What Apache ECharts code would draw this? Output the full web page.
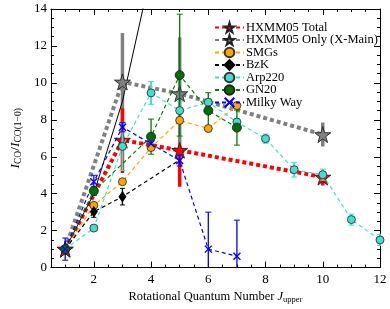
<!DOCTYPE html>
<html><head><meta charset="utf-8">
<script src="https://cdn.jsdelivr.net/npm/echarts@6/dist/echarts.min.js"></script>
<style>html,body{margin:0;padding:0;background:#fff}#c{width:390px;height:309px}</style>
</head><body><div id="c"></div>
<script>
// ---- data ----
var xMajorTicks = [2, 4, 6, 8, 10, 12];
var xMinorTicks = [1, 1.5, 2.5, 3, 3.5, 4.5, 5, 5.5, 6.5, 7, 7.5, 8.5, 9, 9.5, 10.5, 11, 11.5];

var thermJ = [1, 2, 3, 4];
var thermV = [1, 4, 9, 16];

var hxTotJ = [1, 3, 5, 10];
var hxTotV = [1.0, 6.9, 6.35, 4.9];
var hxTotLo = [0, 1.78, 1.97, 0.45];
var hxTotHi = [0, 1.73, 0.2, 0.3];

var hxOnlyJ = [1, 3, 5, 10];
var hxOnlyV = [1.0, 10.05, 9.42, 7.2];
var hxOnlyLo = [0, 2.65, 3.05, 0.65];
var hxOnlyHi = [0, 2.65, 3.05, 0.65];

var smgJ = [1, 2, 3, 4, 5, 6, 7];
var smgV = [1.0, 3.37, 4.65, 6.5, 7.97, 7.53, 8.77];

var bzkJ = [1, 2, 3, 5];
var bzkV = [1.0, 3.02, 3.84, 5.83];
var bzkE = [0, 0.3, 0.45, 0];

var arpJ = [1, 2, 3, 4, 5, 6, 7, 8, 9, 10, 11, 12];
var arpV = [1.0, 2.14, 6.56, 9.46, 8.5, 8.95, 7.88, 6.98, 5.3, 5.03, 2.6, 1.5];
var arpE = [0, 0, 1.3, 0.62, 0.5, 0.2, 0.2, 0.25, 0.4, 0.3, 0.3, 0.3];

var gnJ = [1, 2, 4, 5, 6, 7];
var gnV = [1.0, 4.15, 7.09, 10.42, 8.5, 7.58];
var gnE = [0, 0.25, 0.95, 3.3, 0.97, 0.95];

var mwJ = [1, 2, 3, 4, 5, 6, 7];
var mwV = [1.0, 4.65, 7.6, 6.7, 5.8, 1.0, 0.62];
var mwE = [0.6, 0.35, 0.25, 0.3, 0.3, 2.0, 1.95];

// ---- helpers ----
var FONT = 'Liberation Serif';
function pts(xs, ys) { return xs.map(function (x, i) { return [x, ys[i]]; }); }
function errSeries(xs, ys, lo, hi, color, width, cap, z) {
  var d = [];
  xs.forEach(function (x, i) { if (lo[i] > 0 || hi[i] > 0) d.push([x, ys[i] - lo[i], ys[i] + hi[i]]); });
  return {
    type: 'custom', z: z, silent: true, clip: true,
    data: d, encode: { x: 0, y: [1, 2] },
    renderItem: function (params, api) {
      var a = api.coord([api.value(0), api.value(1)]);
      var b = api.coord([api.value(0), api.value(2)]);
      var ch = [{ type: 'line', shape: { x1: a[0], y1: a[1], x2: b[0], y2: b[1] }, style: { stroke: color, lineWidth: width } }];
      if (cap > 0) {
        ch.push({ type: 'line', shape: { x1: a[0] - cap, y1: a[1], x2: a[0] + cap, y2: a[1] }, style: { stroke: color, lineWidth: 1 } });
        ch.push({ type: 'line', shape: { x1: b[0] - cap, y1: b[1], x2: b[0] + cap, y2: b[1] }, style: { stroke: color, lineWidth: 1 } });
      }
      return { type: 'group', children: ch };
    }
  };
}
function lineSeries(name, data, color, lw, dash, symbol, size, fill, border, z) {
  return {
    name: name, type: 'line', data: data, z: z, clip: true,
    symbol: symbol, symbolSize: size, showSymbol: true,
    lineStyle: { color: color, width: lw, type: dash },
    itemStyle: { color: fill, borderColor: border, borderWidth: 0.9 },
    emphasis: { disabled: true }, animation: false
  };
}

var chart = echarts.init(document.getElementById('c'));
var STAR = 'path://M50,0 L61,35 L98,35 L68,57 L79,91 L50,70 L21,91 L32,57 L2,35 L39,35 Z';
var XMARK = 'path://M0,0 L10,10 M10,0 L0,10';

var bzkData = pts(bzkJ, bzkV);
bzkData[3] = { value: bzkData[3], symbol: 'none' };

var axisLineStyle = { color: '#000', width: 1 };
var option = {
  animation: false,
  grid: { left: 35, right: 10, top: 9, bottom: 34 },
  legend: {
    data: ['HXMM05 Total', 'HXMM05 Only (X-Main)', 'SMGs', 'BzK', 'Arp220', 'GN20', 'Milky Way'],
    orient: 'vertical', left: 209, top: 16, itemWidth: 29, itemHeight: 12, itemGap: -0.5,
    textStyle: { fontFamily: FONT, fontSize: 12.5, color: '#000', lineHeight: 12, padding: [0, 0, 0, -3] }
  },
  xAxis: [
    { type: 'value', min: 0.5, max: 12, position: 'bottom',
      axisLine: { show: true, lineStyle: axisLineStyle },
      axisTick: { show: true, inside: true, length: 6, customValues: xMajorTicks, lineStyle: axisLineStyle },
      axisLabel: { customValues: xMajorTicks, fontFamily: FONT, fontSize: 13, color: '#000', margin: 5 },
      splitLine: { show: false },
      name: '{n|Rotational Quantum Number }{i|J}{s|upper}', nameLocation: 'middle', nameGap: 16,
      nameTextStyle: { rich: {
        n: { fontFamily: FONT, fontSize: 12.5, color: '#000' },
        i: { fontFamily: FONT, fontSize: 12.5, fontStyle: 'italic', color: '#000' },
        s: { fontFamily: FONT, fontSize: 8.5, color: '#000', padding: [5, 0, 0, 0] } } } },
    { type: 'value', min: 0.5, max: 12, position: 'bottom',
      axisLine: { show: false }, axisLabel: { show: false }, splitLine: { show: false },
      axisTick: { show: true, inside: true, length: 3, customValues: xMinorTicks, lineStyle: axisLineStyle } },
    { type: 'value', min: 0.5, max: 12, position: 'top',
      axisLine: { show: true, lineStyle: axisLineStyle }, axisLabel: { show: false }, splitLine: { show: false },
      axisTick: { show: true, inside: true, length: 6, customValues: xMajorTicks, lineStyle: axisLineStyle } },
    { type: 'value', min: 0.5, max: 12, position: 'top',
      axisLine: { show: false }, axisLabel: { show: false }, splitLine: { show: false },
      axisTick: { show: true, inside: true, length: 3, customValues: xMinorTicks, lineStyle: axisLineStyle } }
  ],
  yAxis: [
    { type: 'value', min: 0, max: 14, interval: 2, position: 'left',
      axisLine: { show: true, lineStyle: axisLineStyle },
      axisTick: { show: true, inside: true, length: 6, lineStyle: axisLineStyle },
      minorTick: { show: true, splitNumber: 4, length: 3, lineStyle: axisLineStyle },
      axisLabel: { fontFamily: FONT, fontSize: 13, color: '#000', margin: 4 },
      splitLine: { show: false },
      name: '{i|I}{s|CO}{n|/}{i|I}{s|CO(1\u22120)}', nameLocation: 'middle', nameGap: 18,
      nameTextStyle: { rich: {
        n: { fontFamily: FONT, fontSize: 13.5, color: '#000' },
        i: { fontFamily: FONT, fontSize: 13.5, fontStyle: 'italic', color: '#000' },
        s: { fontFamily: FONT, fontSize: 9.5, color: '#000', padding: [6, 0, 0, 0] } } } },
    { type: 'value', min: 0, max: 14, interval: 2, position: 'right',
      axisLine: { show: true, lineStyle: axisLineStyle },
      axisTick: { show: true, inside: true, length: 6, lineStyle: axisLineStyle },
      minorTick: { show: true, splitNumber: 4, length: 3, lineStyle: axisLineStyle },
      axisLabel: { show: false }, splitLine: { show: false } }
  ],
  series: [
    errSeries(hxOnlyJ, hxOnlyV, hxOnlyLo, hxOnlyHi, '#808080', 3.5, 0, 1),
    errSeries(hxTotJ, hxTotV, hxTotLo, hxTotHi, '#ff0000', 3.5, 0, 1),
    lineSeries('HXMM05 Only (X-Main)', pts(hxOnlyJ, hxOnlyV), '#808080', 4, [4, 3], STAR, 16, '#808080', '#222', 2),
    lineSeries('HXMM05 Total', pts(hxTotJ, hxTotV), '#ff0000', 4, [4, 3], STAR, 16, '#ff0000', '#222', 2),
    { type: 'line', data: pts(thermJ, thermV), symbol: 'none', z: 2, clip: true, silent: true,
      lineStyle: { color: '#000', width: 1 } },
    lineSeries('SMGs', pts(smgJ, smgV), '#ffa500', 1.2, [4, 3], 'circle', 8, '#ffa500', '#333', 3),
    errSeries(bzkJ, bzkV, bzkE, bzkE, '#000', 1.3, 2.5, 3),
    lineSeries('BzK', bzkData, '#000', 1.2, [4, 3], 'diamond', [7, 10], '#000', '#000', 3),
    errSeries(arpJ, arpV, arpE, arpE, '#40e0d0', 2, 3, 3),
    lineSeries('Arp220', pts(arpJ, arpV), '#40e0d0', 1.2, [4, 3], 'circle', 8, '#40e0d0', '#333', 3),
    errSeries(gnJ, gnV, gnE, gnE, '#007a00', 1.3, 3, 3),
    lineSeries('GN20', pts(gnJ, gnV), '#008000', 1.2, [4, 3], 'circle', 9, '#006e00', '#222', 3),
    errSeries(mwJ, mwV, mwE, mwE, '#0000ff', 1.3, 3, 3),
    lineSeries('Milky Way', pts(mwJ, mwV), '#0000ff', 1.2, [4, 3], XMARK, 7, 'rgba(0,0,0,0)', '#0000ff', 3)
  ]
};
option.series[13].itemStyle.borderWidth = 1.4;
chart.setOption(option);
</script>
</body></html>
